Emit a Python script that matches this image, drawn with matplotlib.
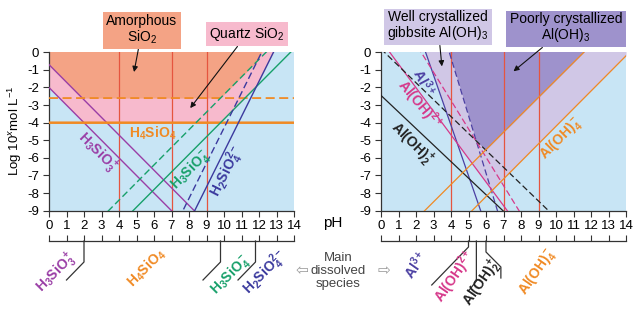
import numpy as np
import matplotlib
matplotlib.use('Agg')
import matplotlib.pyplot as plt

plt.rcParams['font.family'] = ['Liberation Sans', 'DejaVu Sans']
plt.rcParams['mathtext.fontset'] = 'custom'
plt.rcParams['mathtext.rm'] = 'Liberation Sans'
plt.rcParams['mathtext.it'] = 'Liberation Sans:italic'
plt.rcParams['mathtext.bf'] = 'Liberation Sans:bold'
plt.rcParams['axes.unicode_minus'] = False

# ==================== data ====================
PH_TICKS = np.arange(0, 15)
LOGC_TICKS = np.arange(-9, 1)
REF_PH = [4, 7, 9]

# silica species: log C = slope * pH + intercept
si_names = [r'$\mathbf{H_3SiO_3^+}$', r'$\mathbf{H_4SiO_4}$',
            r'$\mathbf{H_3SiO_4^-}$', r'$\mathbf{H_2SiO_4^{2-}}$']
si_slope = [-1.0, 0.0, 1.0, 2.0]
quartz_icpt = [-2.0, -4.0, -13.8, -25.65]
amorph_icpt = [-0.7, -2.6, -12.4, -24.3]
si_bounds = [2.0, 9.8, 11.8]          # main species boundaries (pH)

# aluminium species
al_names = [r'$\mathbf{Al^{3+}}$', r'$\mathbf{Al(OH)^{2+}}$',
            r'$\mathbf{Al(OH)_2^+}$', r'$\mathbf{Al(OH)_4^-}$']
gibbs_slope = [-2.86, -1.34, -0.94, 1.0]
gibbs_icpt = [7.29, 0.67, -2.45, -14.2]
poorly_slope = [-3.27, -1.61, -0.96, 0.99]
poorly_icpt = [12.76, 3.70, 0.19, -11.47]
al_bounds = [5.0, 5.45, 6.0]

# ==================== style ====================
W, H = 633, 311
BG = '#c8e5f5'
SALMON = '#f4a385'
PINK = '#f7bacd'
LAV = '#d0c7e6'
DPURP = '#9e92cc'
RED = '#e5553f'
ORANGE = '#f08a24'
si_colors = ['#9a3ea6', ORANGE, '#17a06a', '#3b3a9e']
al_colors = ['#4b3fa2', '#d6388a', '#222222', ORANGE]
amorph_ls = ['-', '--', '--', '--']

def fp(px, py):
    return px / W, 1 - py / H

AX_B = 1 - 210.7 / H
AX_H = 158.4 / H
AX_W = 245 / W
LEFT_X = 49 / W
RIGHT_X = 381 / W

fig = plt.figure(figsize=(W / 100, H / 100), dpi=100)
ax1 = fig.add_axes([LEFT_X, AX_B, AX_W, AX_H])
ax2 = fig.add_axes([RIGHT_X, AX_B, AX_W, AX_H])

x = np.linspace(0, 14, 2801)

def envelope(slopes, icpts):
    return np.max([s * x + c for s, c in zip(slopes, icpts)], axis=0)

def style_axes(ax):
    ax.set_facecolor(BG)
    ax.set_xlim(0, 14)
    ax.set_ylim(-9, 0)
    ax.set_xticks(PH_TICKS)
    ax.set_yticks(LOGC_TICKS)
    for s in ['top', 'right']:
        ax.spines[s].set_visible(False)
    for s in ['left', 'bottom']:
        ax.spines[s].set_color('#333333')
        ax.spines[s].set_linewidth(0.9)
    ax.tick_params(direction='out', length=4, width=0.8, labelsize=9.5,
                   color='#333333', pad=3)
    for p in REF_PH:
        ax.axvline(p, color=RED, lw=0.9, zorder=2)

# ---------- left: silica ----------
style_axes(ax1)
env_q = envelope(si_slope, quartz_icpt)
env_a = envelope(si_slope, amorph_icpt)
ax1.fill_between(x, env_q, 1, where=env_q < 1, color=PINK, lw=0, zorder=1)
ax1.fill_between(x, env_a, 1, where=env_a < 1, color=SALMON, lw=0, zorder=1)
for i in range(4):
    lw = 1.8 if i == 1 else 1.0
    ax1.plot(x, si_slope[i] * x + quartz_icpt[i], color=si_colors[i], lw=lw, zorder=3)
    ax1.plot(x, si_slope[i] * x + amorph_icpt[i], color=si_colors[i],
             lw=1.3 if i == 1 else 1.0, ls=amorph_ls[i],
             dashes=(5, 2.5) if amorph_ls[i] == '--' else (None, None), zorder=3)

si_lab_pos = [(2.75, -5.7, -45), (5.95, -4.6, 0), (8.1, -6.7, 45), (10.2, -6.8, 63)]
for (px_, py_, rot), name, c in zip(si_lab_pos, si_names, si_colors):
    ax1.text(px_, py_, name, color=c, fontsize=10, rotation=rot,
             ha='center', va='center', zorder=4)

# ---------- right: aluminium ----------
style_axes(ax2)
env_g = envelope(gibbs_slope, gibbs_icpt)
env_p = envelope(poorly_slope, poorly_icpt)
ax2.fill_between(x, env_g, 1, where=env_g < 1, color=LAV, lw=0, zorder=1)
ax2.fill_between(x, env_p, 1, where=env_p < 1, color=DPURP, lw=0, zorder=1)
for i in range(4):
    ax2.plot(x, gibbs_slope[i] * x + gibbs_icpt[i], color=al_colors[i], lw=0.9, zorder=3)
    ax2.plot(x, poorly_slope[i] * x + poorly_icpt[i], color=al_colors[i], lw=0.9,
             ls='--', dashes=(5, 2.5) if i < 3 else (None, None), zorder=3)

al_lab_pos = [(2.45, -1.7, -62), (2.2, -2.95, -50), (1.75, -5.2, -45), (10.3, -4.9, 45)]
for (px_, py_, rot), name, c in zip(al_lab_pos, al_names, al_colors):
    ax2.text(px_, py_, name, color=c, fontsize=10, rotation=rot,
             ha='center', va='center', zorder=4)

# ---------- boxes with arrows ----------
def box(ax, text, fc, xy, center):
    ax.annotate(text, xy=xy, xycoords='data', xytext=fp(*center),
                textcoords='figure fraction', ha='center', va='center',
                fontsize=10, linespacing=1.0,
                bbox=dict(boxstyle='square,pad=0.25', fc=fc, ec='none'),
                arrowprops=dict(arrowstyle='-|>', color='#111111', lw=0.8,
                                mutation_scale=8, shrinkA=0, shrinkB=0),
                annotation_clip=False, zorder=6)

box(ax1, 'Amorphous\nSiO$_2$', SALMON, (4.86, -1.12), (142, 30))
box(ax1, 'Quartz SiO$_2$', PINK, (8.07, -3.17), (247, 34))
box(ax2, 'Well crystallized\ngibbsite Al(OH)$_3$', LAV, (3.48, -0.8), (438, 26))
box(ax2, 'Poorly crystallized\nAl(OH)$_3$', DPURP, (7.57, -1.08), (566, 28))

fig.text(*fp(15, 131), 'Log 10$^x$mol L$^{-1}$', rotation=90, fontsize=9.5,
         ha='center', va='center')
fig.text(*fp(333, 223), 'pH', fontsize=11, ha='center', va='center')

# ---------- species bars ----------
SP_TOP = 241
def species_axes(left):
    sa = fig.add_axes([left, 0, AX_W, 1 - SP_TOP / H])
    sa.set_xlim(0, 14)
    sa.set_ylim(H, SP_TOP)
    sa.patch.set_visible(False)
    for s in ['left', 'right', 'bottom']:
        sa.spines[s].set_visible(False)
    sa.spines['top'].set_color('#333333')
    sa.spines['top'].set_linewidth(0.9)
    sa.set_xticks(PH_TICKS)
    sa.set_yticks([])
    sa.tick_params(axis='x', top=True, bottom=False, labeltop=False,
                   labelbottom=False, direction='out', length=4, width=0.8,
                   color='#333333')
    return sa

sa1 = species_axes(LEFT_X)
for b in si_bounds:
    sa1.plot([b, b, b - 1.0], [SP_TOP, 262, 280], color='#333333', lw=0.9,
             clip_on=False)
si_sp_pos = [(0.46, 273, 45), (5.6, 268, 45), (10.35, 275, 45), (12.36, 273, 45)]
for (px_, py_, rot), name, c in zip(si_sp_pos, si_names, si_colors):
    sa1.text(px_, py_, name, color=c, fontsize=10, rotation=rot,
             ha='center', va='center')

sa2 = species_axes(RIGHT_X)
al_callouts = [([0, 0, -2.1], [SP_TOP, 247, 285]),
               ([0, 0, -0.45], [SP_TOP, 281, 291]),
               ([0, 0, 0.85, 0.85], [SP_TOP, 252, 267, 278])]
for b, (dx, ys) in zip(al_bounds, al_callouts):
    sa2.plot([b + d for d in dx], ys, color='#333333', lw=0.9, clip_on=False)
al_sp_pos = [(1.95, 265, 55), (4.25, 277, 55), (5.8, 283, 55), (8.93, 272, 55)]
for (px_, py_, rot), name, c in zip(al_sp_pos, al_names, al_colors):
    sa2.text(px_, py_, name, color=c, fontsize=10, rotation=rot,
             ha='center', va='center')

fig.text(*fp(338, 271), 'Main\ndissolved\nspecies', fontsize=9.5, color='#444444',
         ha='center', va='center', linespacing=1.15)
fig.text(*fp(302, 271), '\u21e6', fontsize=11, color='#999999', ha='center',
         va='center', family='DejaVu Sans')
fig.text(*fp(384, 271), '\u21e8', fontsize=11, color='#999999', ha='center',
         va='center', family='DejaVu Sans')

fig.savefig('out.png', dpi=100, facecolor='white')
